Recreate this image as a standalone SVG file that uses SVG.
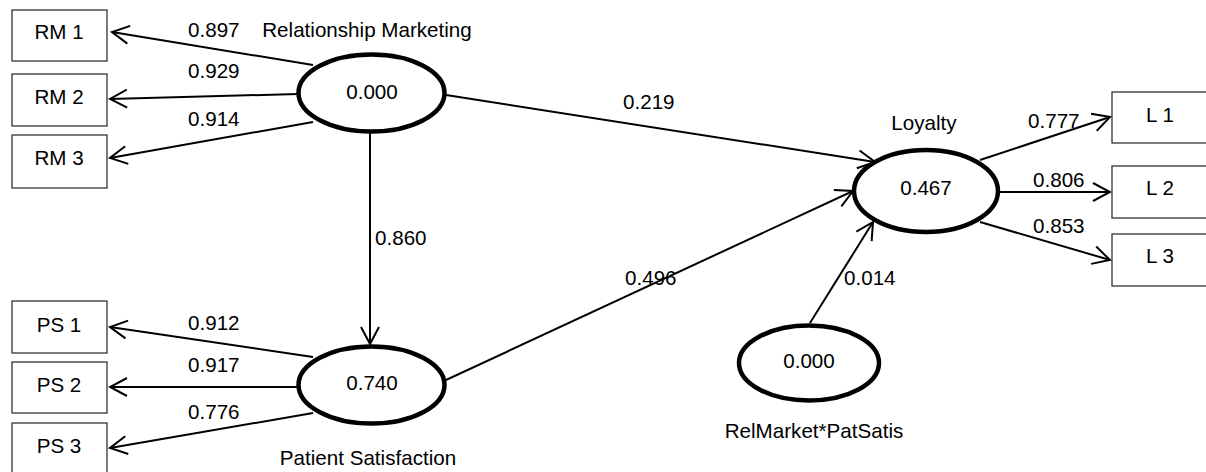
<svg xmlns="http://www.w3.org/2000/svg" width="1206" height="472" viewBox="0 0 1206 472">
<style>
text{font-family:"Liberation Sans",Arial,sans-serif;font-size:20.6px;fill:#000}
.c{text-anchor:middle}
.box{fill:#fff;stroke:#222;stroke-width:1.2}
.lv{fill:#fff;stroke:#000;stroke-width:4.5}
.ln{stroke:#000;stroke-width:2;fill:none;marker-end:url(#ah)}
</style>
<defs>
<marker id="ah" markerUnits="userSpaceOnUse" viewBox="0 0 20 22" refX="18" refY="11" markerWidth="20" markerHeight="22" orient="auto">
<path d="M1,2 L18,11 L1,20" fill="none" stroke="#000" stroke-width="2"/>
</marker>
</defs>
<rect width="1206" height="472" fill="#fff"/>
<g id="connectors">
<line class="ln" x1="313" y1="65" x2="112" y2="32"/>
<line class="ln" x1="298" y1="94" x2="110" y2="99"/>
<line class="ln" x1="313" y1="122" x2="110" y2="158"/>
<line class="ln" x1="313" y1="357" x2="110" y2="327"/>
<line class="ln" x1="298" y1="387" x2="110" y2="387"/>
<line class="ln" x1="313" y1="413" x2="110" y2="448"/>
<line class="ln" x1="370" y1="133" x2="370" y2="344"/>
<line class="ln" x1="446" y1="95" x2="875" y2="162"/>
<line class="ln" x1="446" y1="380" x2="853" y2="191"/>
<line class="ln" x1="810" y1="323" x2="873" y2="222"/>
<line class="ln" x1="980" y1="160" x2="1110" y2="117"/>
<line class="ln" x1="999" y1="192" x2="1110" y2="192"/>
<line class="ln" x1="980" y1="222" x2="1110" y2="260"/>
<text x="188" y="37">0.897</text>
<text x="188" y="78">0.929</text>
<text x="188" y="126">0.914</text>
<text x="188" y="330">0.912</text>
<text x="188" y="372">0.917</text>
<text x="188" y="419">0.776</text>
<text x="375" y="245">0.860</text>
<text x="623" y="109">0.219</text>
<text x="625" y="285">0.496</text>
<text x="844" y="285">0.014</text>
<text x="1028" y="128">0.777</text>
<text x="1033" y="187">0.806</text>
<text x="1033" y="233">0.853</text>
</g>
<g id="RM1"><rect class="box" x="12" y="10" width="95" height="51"/><text class="c" x="59" y="39">RM 1</text></g>
<g id="RM2"><rect class="box" x="12" y="74" width="95" height="52"/><text class="c" x="59" y="104">RM 2</text></g>
<g id="RM3"><rect class="box" x="12" y="135" width="95" height="53"/><text class="c" x="59" y="165">RM 3</text></g>
<g id="PS1"><rect class="box" x="12" y="301" width="95" height="52"/><text class="c" x="59" y="332">PS 1</text></g>
<g id="PS2"><rect class="box" x="12" y="362" width="95" height="51"/><text class="c" x="59" y="392">PS 2</text></g>
<g id="PS3"><rect class="box" x="12" y="423" width="95" height="52"/><text class="c" x="59" y="453">PS 3</text></g>
<g id="L1"><rect class="box" x="1112" y="92" width="100" height="51"/><text class="c" x="1160" y="122">L 1</text></g>
<g id="L2"><rect class="box" x="1112" y="166" width="100" height="52"/><text class="c" x="1160" y="195">L 2</text></g>
<g id="L3"><rect class="box" x="1112" y="234" width="100" height="52"/><text class="c" x="1160" y="263">L 3</text></g>
<g id="RelationshipMarketing"><ellipse class="lv" cx="371.5" cy="93" rx="73" ry="38.5"/><text class="c" x="372" y="99">0.000</text><text class="c" x="367" y="37">Relationship Marketing</text></g>
<g id="PatientSatisfaction"><ellipse class="lv" cx="371.5" cy="385" rx="73" ry="38.5"/><text class="c" x="372" y="390">0.740</text><text class="c" x="368" y="465">Patient Satisfaction</text></g>
<g id="Loyalty"><ellipse class="lv" cx="926" cy="191" rx="72" ry="41"/><text class="c" x="926" y="195">0.467</text><text class="c" x="924" y="130">Loyalty</text></g>
<g id="RelMarketPatSatis"><ellipse class="lv" cx="809" cy="363" rx="70" ry="37.5"/><text class="c" x="809" y="368">0.000</text><text class="c" x="814" y="438">RelMarket*PatSatis</text></g>
</svg>
